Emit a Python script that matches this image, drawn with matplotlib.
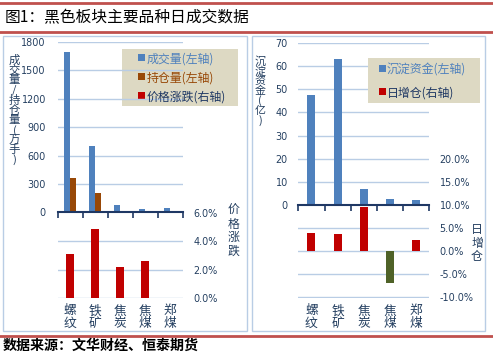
import matplotlib
matplotlib.use("Agg")
import matplotlib.pyplot as plt
from matplotlib.patches import Rectangle
from matplotlib.lines import Line2D
import matplotlib.transforms as mtrans

plt.rcParams['font.family'] = ['Noto Sans CJK SC', 'DejaVu Sans']

# data
cats = ['螺纹', '铁矿', '焦炭', '焦煤', '郑煤']
volume = [1690, 705, 75, 35, 45]        # 成交量 (万手)
openint = [365, 202, 15, 12, 15]        # 持仓量 (万手)
price_chg = [3.1, 4.9, 2.2, 2.6, 0.0]   # 价格涨跌 (%)
funds = [47.6, 63.3, 6.9, 2.5, 2.1]     # 沉淀资金 (亿)
oi_chg = [4.0, 3.8, 9.5, -6.8, 2.5]     # 日增仓 (%)

W, H = 493, 354
BLUE = '#4F81BD'
BROWN = '#984807'
RED = '#C00000'
GREEN = '#4F6228'
GRID = '#B9CDE5'
NAVY = '#1F3864'
TXT = '#243F60'
LEGBG = '#DDD9C3'

fig = plt.figure(figsize=(W / 100, H / 100), dpi=100)


def box(x0, y0, x1, y1):
    return [x0 / W, 1 - y1 / H, (x1 - x0) / W, (y1 - y0) / H]


def fy(y):
    return 1 - y / H


def legend_box(x0, y0, x1, y1, mx, rows, size):
    # background, colour squares and labels placed in figure pixels
    fig.add_artist(Rectangle((x0 / W, fy(y1)), (x1 - x0) / W, (y1 - y0) / H,
                             facecolor=LEGBG, edgecolor='none'))
    for y, col, lab, tcol in rows:
        fig.add_artist(Rectangle(((mx - 3.5) / W, fy(y + 2)), 7 / W, 7 / H,
                                 facecolor=col, edgecolor='none'))
        fig.text((mx + 5) / W, fy(y), lab, fontsize=size, color=tcol,
                 ha='left', va='center')


# title lines and panel borders
for y in (3, 32, 336):
    fig.add_artist(Line2D([0, 1], [fy(y), fy(y)], color='#C0504D', lw=2))
fig.text(5 / W, fy(18), '图1：黑色板块主要品种日成交数据', fontsize=11.3,
         va='center', ha='left', color='black')
fig.text(3 / W, fy(346), '数据来源：文华财经、恒泰期货', fontsize=10.1,
         fontweight='bold', va='center', ha='left', color='black')
for (x0, x1) in ((3, 247), (252, 485)):
    fig.add_artist(Rectangle((x0 / W, fy(331)), (x1 - x0) / W, (331 - 36) / H,
                             fill=False, edgecolor=GRID, lw=1))

x = list(range(len(cats)))
bounds = [i - 0.5 for i in range(len(cats) + 1)]

# ---------------- left panel ----------------
ax1 = fig.add_axes(box(57.7, 42, 182.7, 212.3))
ax1.set_xlim(-0.5, 4.5)
ax1.set_ylim(0, 1800)
for v in range(300, 1801, 300):
    ax1.axhline(v, color=GRID, lw=1, zorder=0)
ax1.bar([i - 0.12 for i in x], volume, width=0.24, color=BLUE, zorder=2)
ax1.bar([i + 0.12 for i in x], openint, width=0.24, color=BROWN, zorder=2)
ax1.set_yticks(range(0, 1801, 300))
ax1.tick_params(axis='y', length=0, pad=8.5, labelsize=6.9, labelcolor=TXT)
for lab in ax1.get_yticklabels():
    lab.set_family('DejaVu Sans')
ax1.set_xticks(bounds)
ax1.set_xticklabels([])
ax1.tick_params(axis='x', direction='out', length=4, width=1.2, color=NAVY)
for s in ('top', 'right', 'left'):
    ax1.spines[s].set_visible(False)
ax1.spines['bottom'].set_color(NAVY)
ax1.spines['bottom'].set_linewidth(1.5)
ax1.set_zorder(3)
ax1.patch.set_visible(False)

ax2 = fig.add_axes(box(57.7, 213, 182.7, 298))
ax2.set_xlim(-0.5, 4.5)
ax2.set_ylim(0, 6)
for v in (0, 2, 4):
    ax2.axhline(v, color=GRID, lw=1, zorder=0)
ax2.bar(x, price_chg, width=0.32, color=RED, zorder=2)
ax2.yaxis.tick_right()
ax2.set_yticks([0, 2, 4, 6])
ax2.set_yticklabels(['%.1f%%' % v for v in (0, 2, 4, 6)])
ax2.tick_params(axis='y', length=0, pad=7.5, labelsize=6.9, labelcolor=TXT)
for lab in ax2.get_yticklabels():
    lab.set_family('DejaVu Sans')
ax2.set_xticks([])
for s in ax2.spines.values():
    s.set_visible(False)

tr = mtrans.blended_transform_factory(ax2.transData, fig.transFigure)
for i, c in enumerate(cats):
    fig.text(i, fy(317), '\n'.join(c), transform=tr, ha='center', va='center',
             fontsize=9.2, linespacing=0.93, color=TXT)

fig.text(14.5 / W, fy(110), '\n'.join('成交量/持仓量(万手)'), ha='center',
         va='center', fontsize=8.2, linespacing=0.93, color=TXT)
fig.text(234 / W, fy(231), '\n'.join('价格涨跌'), ha='center', va='center',
         fontsize=8.6, linespacing=1.05, color=TXT)

legend_box(122, 49, 238, 106, 141.5,
           [(59, BLUE, '成交量(左轴)', BLUE),
            (78, BROWN, '持仓量(左轴)', BROWN),
            (97, RED, '价格涨跌(右轴)', NAVY)], 8.6)

# ---------------- right panel ----------------
ax3 = fig.add_axes(box(298.3, 43.3, 429.3, 297.7))
ax3.set_xlim(-0.5, 4.5)
ax3.set_ylim(-40.3, 70)
for v in range(10, 71, 10):
    ax3.axhline(v, color=GRID, lw=1, zorder=0)
ax3.bar(x, funds, width=0.3, color=BLUE, zorder=2)
ax3.set_yticks(range(0, 71, 10))
ax3.tick_params(axis='y', length=0, pad=7.5, labelsize=6.9, labelcolor=TXT)
for lab in ax3.get_yticklabels():
    lab.set_family('DejaVu Sans')
ax3.set_xticks(bounds)
ax3.set_xticklabels([])
ax3.tick_params(axis='x', direction='out', length=4, width=1.2, color=NAVY)
for s in ('top', 'right', 'left'):
    ax3.spines[s].set_visible(False)
ax3.spines['bottom'].set_position(('data', 0))
ax3.spines['bottom'].set_color(NAVY)
ax3.spines['bottom'].set_linewidth(1.5)

ax4 = ax3.twinx()
ax4.set_ylim(-10.07, 45.1)
for v in (-10, -5, 0, 5):
    ax4.axhline(v, color=GRID, lw=1, zorder=0)
ax4.bar(x, oi_chg, width=0.3, zorder=2,
        color=[RED if v >= 0 else GREEN for v in oi_chg])
ax4.set_yticks(range(-10, 21, 5))
ax4.set_yticklabels(['%.1f%%' % v for v in range(-10, 21, 5)])
ax4.tick_params(axis='y', length=0, pad=7.5, labelsize=6.9, labelcolor=TXT)
for lab in ax4.get_yticklabels():
    lab.set_family('DejaVu Sans')
for s in ax4.spines.values():
    s.set_visible(False)

tr3 = mtrans.blended_transform_factory(ax3.transData, fig.transFigure)
for i, c in enumerate(cats):
    fig.text(i, fy(317), '\n'.join(c), transform=tr3, ha='center', va='center',
             fontsize=9.2, linespacing=0.93, color=TXT)

fig.text(260 / W, fy(91), '\n'.join('沉淀资金(亿)'), ha='center', va='center',
         fontsize=7.9, linespacing=0.93, color=TXT)
fig.text(477 / W, fy(243), '\n'.join('日增仓'), ha='center', va='center',
         fontsize=8.6, linespacing=1.05, color=TXT)

legend_box(368, 58, 480, 103, 382,
           [(70, BLUE, '沉淀资金(左轴)', BLUE),
            (92.7, RED, '日增仓(右轴)', NAVY)], 8.6)

fig.savefig('out.png', dpi=100)
